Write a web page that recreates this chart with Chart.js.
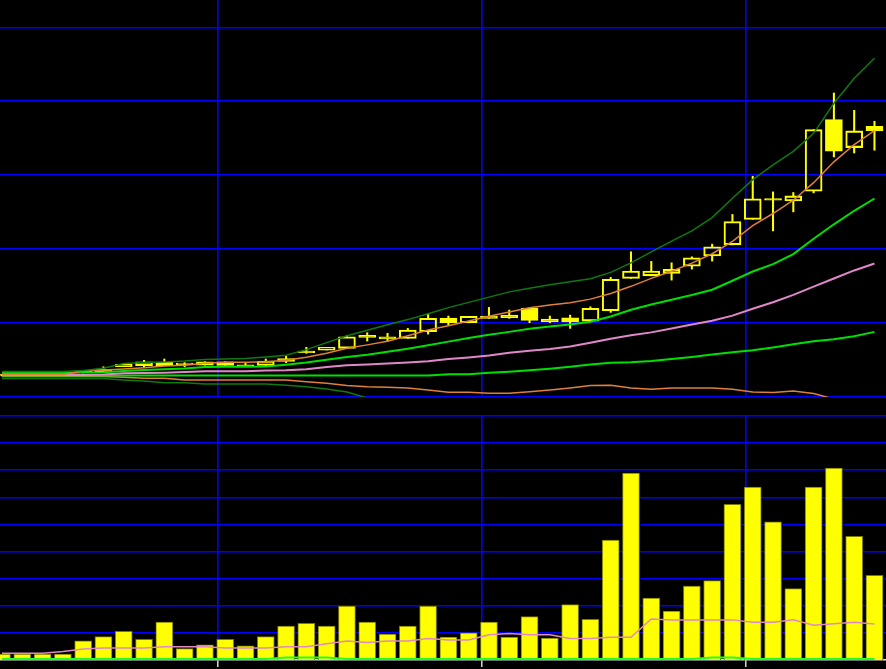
<!DOCTYPE html>
<html><head><meta charset="utf-8">
<script src="https://cdn.jsdelivr.net/npm/chart.js@4.4.1/dist/chart.umd.min.js"></script>
<style>
html,body{margin:0;padding:0;background:#000;overflow:hidden;}
#wrap{position:relative;width:886px;height:669px;background:#000;}
#top{position:absolute;left:0;top:0;}
#bot{position:absolute;left:0;top:398px;}
</style></head><body>
<div id="wrap">
<canvas id="top" width="886" height="398"></canvas>
<canvas id="bot" width="886" height="271"></canvas>
</div>
<script>
// ---- categories (trading-day index) ----
const days = [0,1,2,3,4,5,6,7,8,9,10,11,12,13,14,15,16,17,18,19,20,21,22,23,24,25,26,27,28,29,30,31,32,33,34,35,36,37,38,39,40,41,42,43];

// ---- candles ----
const open  = [2.91,2.91,2.91,2.91,3.45,3.74,4.09,4.23,4.73,4.39,4.77,4.77,4.36,4.28,5.20,6.22,6.35,6.58,8.34,8.15,7.93,8.82,10.68,10.04,10.95,11.08,12.03,10.54,10.72,10.27,11.66,16.04,16.39,16.72,17.70,19.09,20.58,24.01,26.62,26.53,27.84,37.53,33.74,36.62];
const close = [2.91,2.91,2.91,2.91,3.31,3.38,4.42,4.77,4.23,4.42,4.32,4.28,4.09,4.86,4.80,5.99,6.72,8.15,8.07,7.84,9.05,10.64,10.04,10.91,10.64,10.72,10.36,10.18,10.14,11.99,15.91,17.03,17.03,17.26,18.82,20.31,23.74,26.80,26.62,27.20,36.18,33.24,35.99,35.99];
const high  = [2.97,2.97,2.97,2.97,3.51,4.09,4.42,4.96,5.14,4.64,4.77,4.77,4.69,5.14,5.50,6.72,6.72,8.34,8.69,8.61,9.28,11.22,10.95,10.91,12.12,11.76,12.03,10.95,11.08,12.20,16.18,19.64,18.34,18.15,18.96,20.68,24.69,29.86,27.74,27.66,36.18,41.12,38.78,37.30];
const low   = [2.84,2.84,2.84,2.84,3.24,3.38,4.09,3.96,4.23,4.09,4.32,4.28,4.09,4.28,4.64,5.91,6.35,6.58,7.57,7.57,7.93,8.51,9.73,10.04,10.64,10.64,10.04,10.04,9.28,10.27,11.45,16.04,16.39,15.81,17.30,18.38,20.58,24.01,22.47,25.04,27.61,32.47,33.01,33.38];

// ---- indicator lines (main panel) ----
const upperBand   = [3.45,3.45,3.45,3.45,3.60,3.90,4.53,4.66,4.73,4.86,5.07,5.14,5.20,5.41,5.64,6.41,7.35,8.28,9.04,9.76,10.47,11.27,12.09,12.80,13.51,14.22,14.72,15.18,15.59,16.00,16.86,18.14,19.64,21.09,22.46,24.26,26.88,29.41,31.39,33.23,35.66,39.73,43.11,45.81];
const ma5         = [3.04,3.04,3.04,3.04,3.51,3.65,3.78,3.96,4.19,4.28,4.55,4.69,4.69,4.77,4.96,5.38,5.93,6.59,7.05,7.55,8.28,9.07,9.65,10.27,10.92,11.51,12.07,12.43,12.74,13.24,14.00,14.97,16.05,17.01,18.11,19.38,21.04,23.19,24.82,26.62,28.99,31.81,34.14,36.03];
const ma10        = [3.24,3.24,3.24,3.24,3.31,3.34,3.51,3.65,3.74,3.85,4.05,4.09,4.09,4.12,4.36,4.66,5.04,5.41,5.73,6.12,6.53,6.99,7.49,7.99,8.41,8.81,9.23,9.53,9.80,10.19,10.89,11.80,12.51,13.16,13.80,14.51,15.72,16.97,17.97,19.32,21.41,23.36,25.19,26.85];
const ma20        = [2.97,2.97,2.97,2.97,2.97,3.04,3.20,3.24,3.28,3.38,3.47,3.47,3.47,3.58,3.61,3.76,4.05,4.28,4.41,4.54,4.68,4.85,5.15,5.35,5.61,6.00,6.26,6.49,6.82,7.35,7.89,8.35,8.74,9.26,9.82,10.32,11.01,11.93,12.82,13.82,14.93,16.03,17.12,18.05];
const ma60        = [2.91,2.91,2.91,2.91,2.91,2.91,2.91,2.91,2.91,2.91,2.91,2.91,2.91,2.91,2.91,2.91,2.91,2.91,2.91,2.91,2.91,2.91,3.07,3.07,3.28,3.42,3.61,3.82,4.09,4.39,4.64,4.69,4.86,5.14,5.41,5.74,6.04,6.31,6.69,7.12,7.54,7.80,8.22,8.81];
const lowerOrange = [2.77,2.77,2.77,2.77,2.77,2.77,2.66,2.53,2.53,2.30,2.30,2.30,2.30,2.30,2.30,2.07,1.85,1.55,1.39,1.31,1.22,0.95,0.64,0.64,0.50,0.50,0.72,0.95,1.22,1.55,1.58,1.22,1.04,1.22,1.22,1.22,1.04,0.68,0.61,0.81,0.47,-0.27,null,null];
const lowerBand   = [2.50,2.50,2.50,2.50,2.50,2.50,2.30,2.16,1.93,1.93,1.76,1.76,1.76,1.76,1.58,1.39,1.08,0.68,-0.14,null,null,null,null,null,null,null,null,null,null,null,null,null,null,null,null,null,null,null,null,null,null,null,null,null];

// ---- volume panel ----
const volume   = [0.22,0.22,0.22,0.22,0.71,0.86,1.06,0.76,1.40,0.42,0.56,0.76,0.52,0.86,1.25,1.35,1.25,1.99,1.40,0.96,1.25,1.99,0.85,1.00,1.40,0.85,1.60,0.81,2.04,1.50,4.42,6.89,2.28,1.80,2.73,2.93,5.74,6.38,5.10,2.63,6.38,7.08,4.56,3.12];
const volumeMA = [0.25,0.25,0.25,0.31,0.41,0.44,0.44,0.44,0.49,0.49,0.49,0.44,0.44,0.44,0.49,0.49,0.60,0.70,0.65,0.70,0.70,0.79,0.74,0.74,0.93,0.98,0.93,0.93,0.79,0.79,0.84,0.84,1.51,1.48,1.48,1.48,1.48,1.39,1.39,1.48,1.28,1.34,1.39,1.33];
const volumeBase = [0.04,0.04,0.04,0.04,0.04,0.04,0.04,0.04,0.04,0.04,0.04,0.04,0.04,0.04,0.09,0.09,0.09,0.04,0.04,0.04,0.04,0.04,0.04,0.04,0.04,0.04,0.04,0.04,0.04,0.04,0.04,0.04,0.04,0.04,0.04,0.09,0.09,0.04,0.04,0.04,0.04,0.04,0.04,0.04];

// ---- axis ticks ----
const gridDays    = [10.65, 23.65, 36.65];
const priceTicks  = [0,10,20,30,40,50];
const volumeTicks = [1,2,3,4,5,6,7,8,9];

// ---- styling ----
const YEL = '#ffff00', BLUE = '#0000ff';
const DKGREEN = '#0f7a0f', GREEN = '#00e000', ORANGE = '#e0803c', PINK = '#e088c8';
const GRIDW = 1.6;

const bodies    = open.map((o, i) => [o, close[i]]);
const upperWick = high.map((h, i) => [Math.max(open[i], close[i]), h]);
const lowerWick = low.map((l, i) => [l, Math.min(open[i], close[i])]);
const bodyFill  = open.map((o, i) => close[i] <= o ? YEL : 'rgba(0,0,0,0)');

function xAxis(bottom) {
  return {
    type: 'linear', min: -0.0986, max: 43.568, offset: false,
    afterBuildTicks: ax => { ax.ticks = gridDays.map(v => ({value: v})); },
    ticks: {display: false},
    grid: {color: BLUE, lineWidth: GRIDW, offset: false, drawTicks: bottom, tickLength: 7, tickColor: '#d8d8d8', tickWidth: 1.5},
    border: {display: bottom, color: '#e0e0e0', width: 1.5}
  };
}
function yAxis(min, max, ticks) {
  return {
    min, max,
    afterBuildTicks: ax => { ax.ticks = ticks.map(v => ({value: v})); },
    ticks: {display: false},
    grid: {color: BLUE, lineWidth: GRIDW, drawTicks: false},
    border: {display: false}
  };
}
function line(data, color, w) {
  return {type: 'line', data, borderColor: color, borderWidth: w, pointRadius: 0,
          tension: 0, fill: false, clip: 0, spanGaps: false};
}

new Chart(document.getElementById('top'), {
  type: 'bar',
  data: {
    labels: days,
    datasets: [
      line(upperBand, DKGREEN, 1.5),
      line(ma5, ORANGE, 1.5),
      line(ma10, GREEN, 2),
      line(ma20, PINK, 2),
      line(ma60, GREEN, 2),
      line(lowerOrange, ORANGE, 1.5),
      line(lowerBand, DKGREEN, 1.5),
      {type: 'bar', data: bodies, grouped: false, barThickness: 17, minBarLength: 1.5,
       backgroundColor: bodyFill, borderColor: YEL, borderWidth: 1.4, borderSkipped: false, clip: 0},
      {type: 'bar', data: upperWick, grouped: false, barThickness: 1.4,
       backgroundColor: YEL, borderWidth: 0, clip: 0},
      {type: 'bar', data: lowerWick, grouped: false, barThickness: 1.4,
       backgroundColor: YEL, borderWidth: 0, clip: 0}
    ]
  },
  options: {
    responsive: false, animation: false, devicePixelRatio: 1, events: [],
    layout: {padding: {top: 0, bottom: 1, left: 0, right: 0}},
    plugins: {legend: {display: false}, tooltip: {enabled: false}},
    scales: { x: xAxis(false), y: yAxis(0, 53.7, priceTicks) }
  }
});

new Chart(document.getElementById('bot'), {
  type: 'bar',
  data: {
    labels: days,
    datasets: [
      line(volumeMA, PINK, 1.5),
      line(volumeBase, '#20ff20', 2),
      {type: 'bar', data: volume, grouped: false, barThickness: 17,
       backgroundColor: YEL, borderColor: '#7a7a00', borderWidth: 1, borderSkipped: 'start', clip: 0}
    ]
  },
  options: {
    responsive: false, animation: false, devicePixelRatio: 1, events: [],
    layout: {padding: {top: 18, bottom: 2, left: 0, right: 0}},
    plugins: {legend: {display: false}, tooltip: {enabled: false}},
    scales: { x: xAxis(true), y: yAxis(0, 9, volumeTicks) }
  }
});
</script>
</body></html>
